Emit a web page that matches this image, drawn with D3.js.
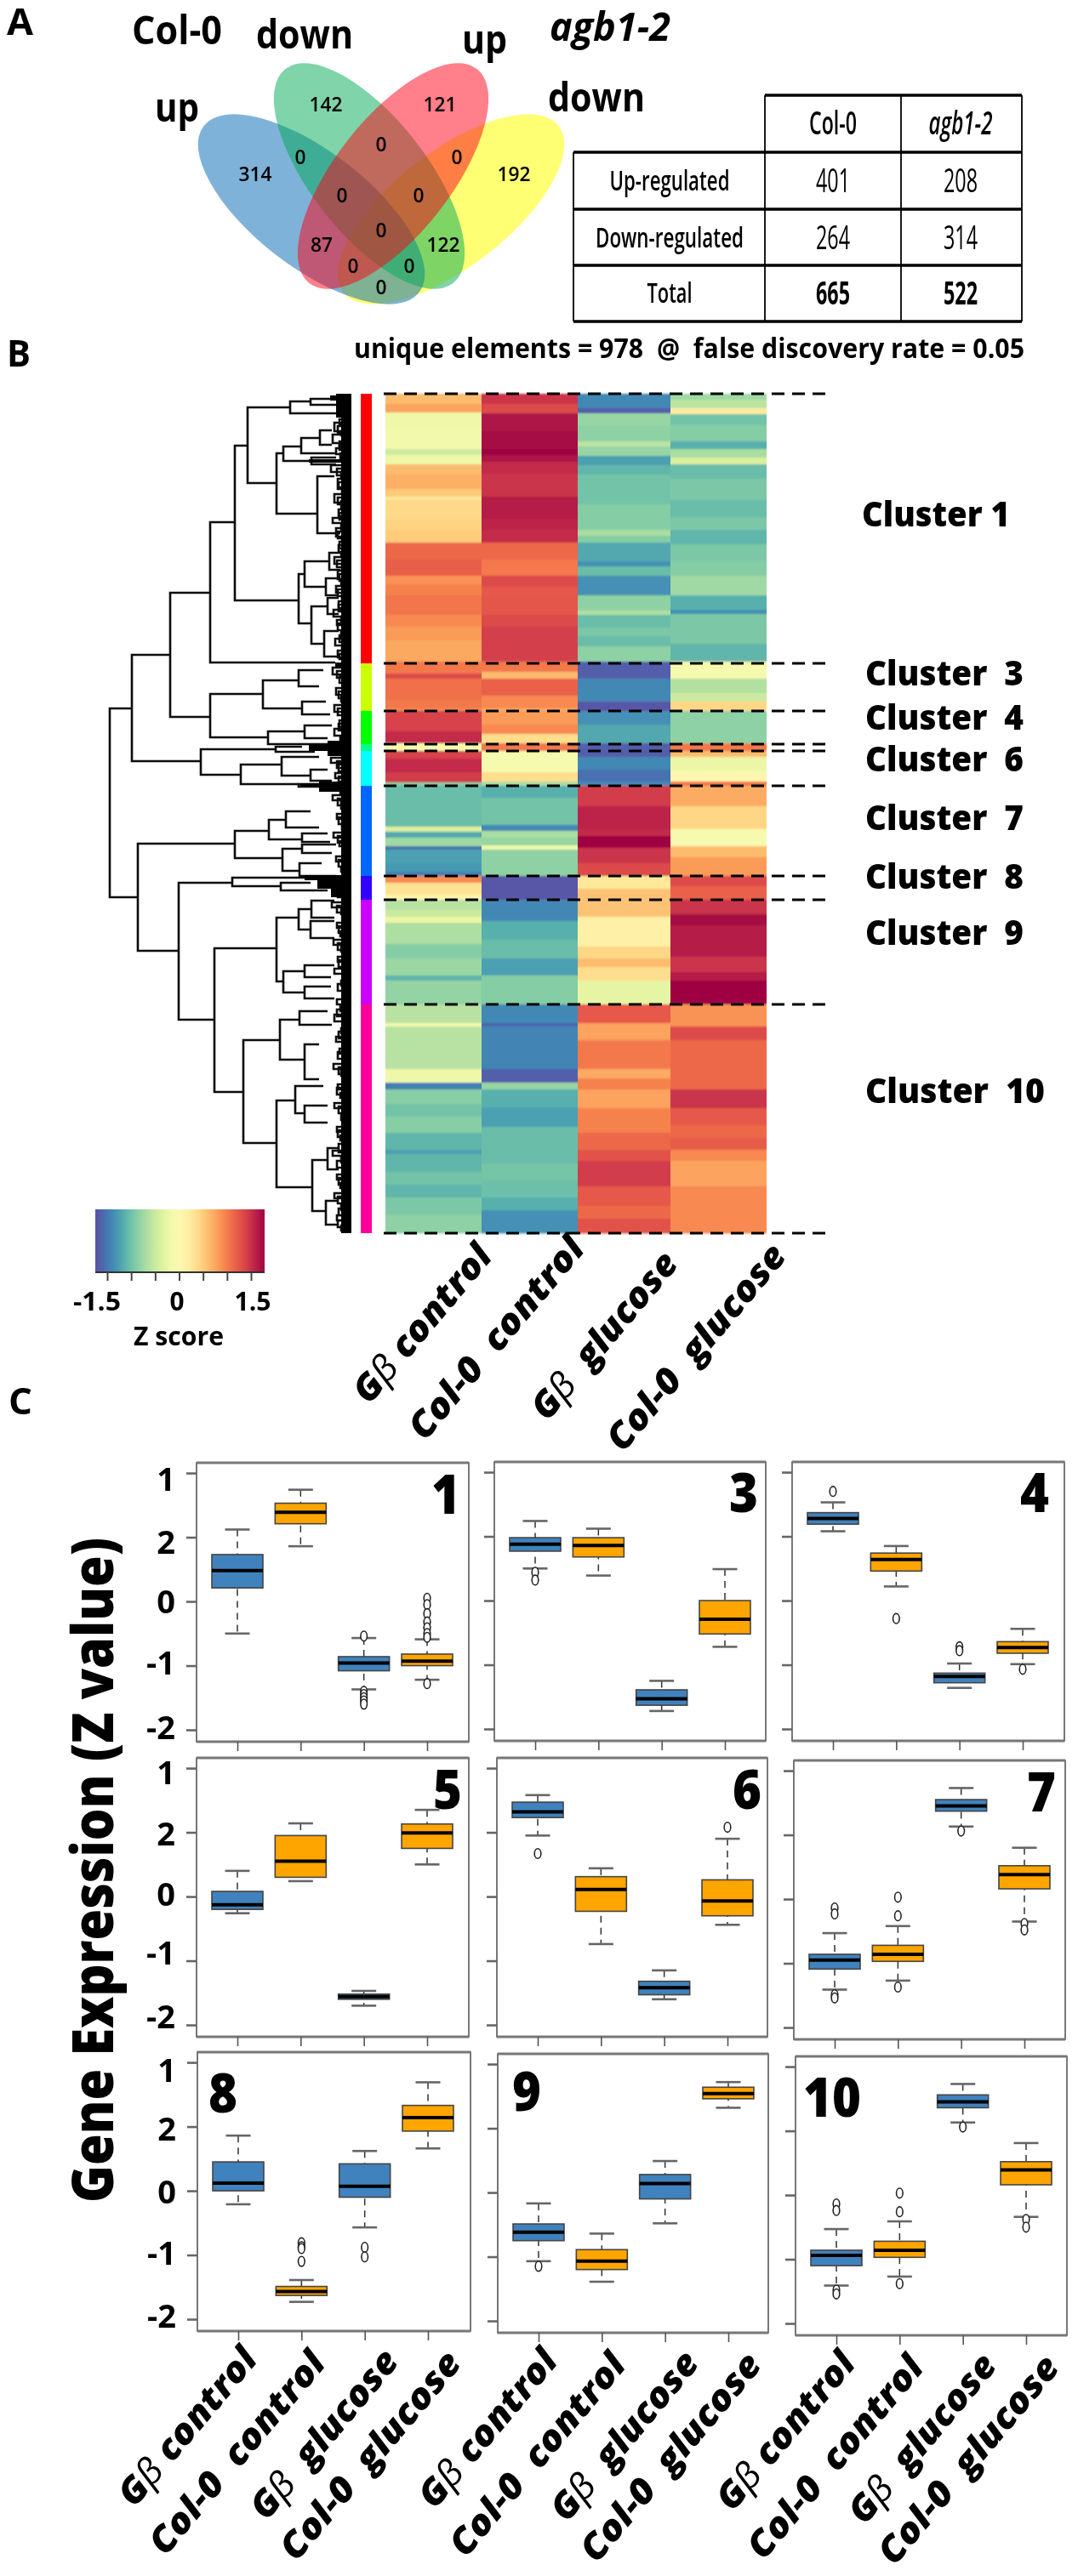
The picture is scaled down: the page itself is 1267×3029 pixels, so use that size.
<!DOCTYPE html>
<html><head><meta charset="utf-8">
<script src="https://cdn.jsdelivr.net/npm/d3@7"></script>
<style>html,body{margin:0;background:#fff}svg{display:block}text{font-family:"Open Sans",sans-serif;fill:#000}</style>
</head><body><svg id="c" width="1267" height="3029"></svg>
<script>
// ---------- DATA ----------
const vennSets=["Col-0 up","Col-0 down","agb1-2 up","agb1-2 down"];
const vennCounts=[142,121,0,0,0,314,192,0,0,0,87,122,0,0,0];
const tableHead=["Col-0","agb1-2"];
const tableRows=["Up-regulated","Down-regulated","Total"];
const tableCol0=[401,264,665];
const tableAgb=[208,314,522];
const conditions=["Gβ control","Col-0\u00a0 control","Gβ\u00a0 glucose","Col-0\u00a0 glucose"];
const clusterNames=["Cluster 1","Cluster\u00a0 3","Cluster\u00a0 4","Cluster\u00a0 6","Cluster\u00a0 7","Cluster\u00a0 8","Cluster\u00a0 9","Cluster\u00a0 10"];
const clusterBreaks=[0,317,373,412,420,461,567,595,718,987];
const sideColors=["#ff0000","#ccff00","#00ff00","#00ff88","#00ffff","#0066ff","#3300ff","#cc00ff","#ff0099"];
// heat map runs: [last gene row, z score]
const heat1=[[12,.6],[22,.75],[40,-.22],[65,-.15],[72,-.5],[83,-.2],[95,.6],[112,.68],[121,.5],[125,.25],[147,.38],[160,.42],[175,.48],[195,1.1],[214,1.17],[224,.85],[237,.95],[260,1.02],[274,.9],[290,.8],[315,.72],
[329,1.0],[335,1.3],[360,1.05],[370,1],[373,.9],[397,1.35],[411,1.5],[420,-.1],[429,1.35],[445,1.5],[457,1.4],[461,-.9],[509,-1.05],[515,-.4],[522,-1.2],[532,-.75],[536,-1.55],[552,-1.25],[562,-1.3],[567,-1.45],[575,.9],[589,.3],[595,.1],
[607,-.62],[615,-.5],[622,-.25],[647,-.68],[664,-.9],[684,-.78],[690,-1.1],[718,-.82],[740,-.62],[744,-.15],[794,-.62],[810,-.2],[818,-1.45],[835,-.88],[850,-1],[869,-.88],[889,-1.1],[894,-1.25],[915,-1.1],[930,-1],[945,-1.1],[965,-.95],[987,-.85]];
const heat2=[[12,1.45],[23,1.3],[44,1.65],[65,1.7],[72,1.75],[80,1.65],[94,1.5],[112,1.45],[121,1.45],[147,1.6],[160,1.55],[175,1.5],[195,1.1],[214,1],[227,1.3],[237,1.2],[260,1.22],[274,1.3],[315,1.38],
[327,1],[335,.6],[355,1.15],[370,.9],[373,.7],[389,.8],[400,.9],[411,.35],[420,1],[445,-.1],[456,.35],[461,-.7],[475,-1.15],[507,-1],[514,-1.4],[522,-.7],[531,-.8],[536,-.2],[567,-.85],[595,-1.7],
[620,-1.4],[642,-1.15],[664,-1.05],[684,-1.25],[718,-.9],[740,-1.4],[744,-1.6],[794,-1.42],[810,-1.65],[818,-.8],[839,-1.15],[862,-1.25],[889,-1.05],[905,-1.05],[925,-.98],[945,-1.03],[960,-1.15],[987,-1.35]];
const heat3=[[17,-1.4],[23,-1.65],[37,-.8],[56,-.85],[62,-.6],[73,-.8],[84,-1.25],[95,-1.1],[112,-1],[130,-1],[160,-.9],[167,-.7],[175,-.9],[197,-1.2],[203,-1.35],[214,-1.05],[237,-1.35],[255,-.85],[260,-.65],[275,-1.05],[285,-.95],[297,-1.05],[315,-.85],
[335,-1.65],[362,-1.4],[373,-1.7],[389,-1.35],[411,-1.2],[427,-1.65],[442,-1.4],[456,-1.55],[461,-1.4],[485,1.4],[512,1.55],[520,1.5],[534,1.75],[552,1.45],[567,1.3],[582,.25],[595,.55],
[615,.55],[650,.15],[664,.4],[674,.6],[690,.35],[718,-.3],[740,1.2],[760,.75],[794,1],[805,.7],[818,.95],[840,.75],[869,.95],[889,1.1],[902,1.25],[932,1.4],[955,1.2],[970,1.1],[987,1.25]];
const heat4=[[7,-.75],[17,-.6],[24,.2],[37,-1],[56,-.9],[65,-1.15],[75,-.7],[83,-.4],[100,-1.05],[125,-.95],[145,-1.05],[160,-.95],[177,-1.1],[197,-.95],[214,-.9],[237,-.75],[254,-1.15],[259,-1.35],[294,-.95],[315,-1.1],
[335,-.1],[352,-.65],[362,-.5],[373,.4],[411,-.85],[420,1],[427,.6],[444,-.25],[456,.05],[461,1],[485,.7],[512,.4],[532,-.1],[545,.6],[567,.8],[579,1.3],[595,1.15],
[612,1.45],[625,1.7],[662,1.6],[680,1.45],[690,1.6],[718,1.75],[744,.85],[760,1.3],[818,1.1],[840,1.45],[860,1.2],[875,1.1],[889,1.18],[902,.9],[932,.75],[987,.9]];
// dendrogram merges: [height, row, child height, row, child height]
const dendroMerges=[[284,370,258,592,251],[258,307,213,432,177],[213,234,166,380,166],[166,151,137,316,19],[137,61,122,243,62],[122,16,72,105,88],[72,9,48,23,18],[48,6,18,13,18],[88,70,80,141,40],[80,62,59,79,47],[59,52,37,70,18],[37,43,23,60,23],[47,75,18,83,18],[40,97,20,164,13],[62,212,55,270,47],[55,197,26,227,30],[47,250,28,294,32],[26,187,13,207,13],[30,217,15,237,15],[28,240,15,259,15],[32,279,15,309,15],
[166,353,104,404,98],[104,337,62,370,58],[62,325,33,344,38],[58,362,30,377,25],[98,397,55,412,18],[55,390,23,405,28],[177,418,89,448,130],[130,436,82,459,62],[82,427,38,449,48],[89,415,58,421,43],[48,442,28,455,23],[62,459,18,462,18],
[251,529,137,655,203],[137,514,97,546,81],[97,501,77,524,58],[77,491,48,510,38],[58,517,28,527,25],[81,535,58,561,61],[58,530,18,540,23],[61,552,35,567,18],[203,575,140,736,161],[140,569,55,579,83],[83,575,48,584,28],[161,652,88,821,127],[88,616,62,691,80],[62,606,47,630,48],[47,596,20,616,20],[48,620,20,640,20],[80,679,55,704,55],[55,672,20,686,24],[55,697,24,711,20],[127,760,84,881,88],[84,736,61,783,55],[61,726,28,742,23],[55,765,38,806,38],[88,831,66,933,46],[66,814,33,846,55],[55,837,28,857,28],[46,901,28,961,30],[28,887,15,912,15],[30,949,15,977,15]];
// small leaf brackets near the label edge: [height, row, row]
const leafBrackets=[[14,30,36],[20,34,44],[12,44,49],[22,48,58],[14,56,62],[18,64,71],[13,70,78],[24,84,92],[12,92,98],[16,100,112],[11,110,116],[20,118,128],[12,126,134],[15,136,144],[22,146,152],[12,152,160],[18,158,168],[11,168,172],[14,174,182],[12,186,192],[20,192,200],[11,202,206],[16,208,218],[12,218,224],[18,226,234],[11,236,242],[15,244,252],[21,254,262],[12,262,268],[16,270,278],[12,280,286],[19,288,296],[11,298,304],[14,306,312],
[22,322,330],[14,332,340],[18,346,354],[12,356,362],[20,366,374],[14,384,392],[20,394,402],[13,404,410],[24,428,434],[15,436,444],[19,446,452],[13,464,470],[22,472,478],[12,480,488],[17,494,500],[11,504,512],[21,516,522],[14,526,532],[18,544,550],[12,556,562],[16,586,592],[23,598,604],[12,606,612],[17,622,628],[13,632,638],[21,642,648],[12,650,656],[16,662,668],[20,676,682],[12,690,696],[17,712,718],[13,720,726],[20,730,738],[12,746,752],[18,756,762],[14,770,776],[21,788,794],[12,796,802],[16,812,818],[13,822,828],[20,834,840],[12,848,854],[17,862,868],[13,872,878],[22,890,896],[12,898,904],[17,918,924],[13,928,934],[20,940,946],[12,954,960],[17,966,972],[12,978,984]];
const leafBracketsInner=[[16,38,46],[14,60,66],[17,88,96],[15,104,110],[16,122,130],[14,140,148],[16,162,170],[15,178,186],[17,196,204],[14,212,220],[16,230,238],[15,248,256],[17,266,272],[14,284,292],[16,302,310],[17,326,334],[15,350,358],[16,370,378],[15,388,396],[17,432,440],[15,450,456],[16,476,484],[15,498,506],[16,520,528],[15,548,556],[17,602,610],[15,626,634],[16,646,654],[15,666,674],[16,694,702],[17,724,732],[15,750,758],[16,774,782],[15,792,800],[17,816,824],[15,838,846],[16,866,874],[15,882,892],[17,902,910],[15,922,930],[16,944,952],[15,958,966],[16,972,980]];
const leafPatches=[[18,0,28],[25,2,8],[12,0,987],[19,316,322],[50,412,420],[28,408,426],[60,458,462],[38,456,468],[55,566,572],[40,570,582],[24,582,592],[50,77,81]];
const colorTicks=[-1.5,-1,-.5,0,.5,1,1.5];
const colorLabels=["-1.5","","","0","","","1.5"];
const yTickValues=[2,1,0,-1,-2];
const yTickLabels=["1","2","0","-1","-2"];
// boxes: [upper whisker, q3, median, q1, lower whisker, outliers]
const box1=[[1.12,.73,.48,.21,-.5,[]],[1.74,1.53,1.39,1.21,.86,[]],[-.57,-.86,-.96,-1.08,-1.37,[-.54,-1.4,-1.45,-1.5,-1.55,-1.6]],[-.59,-.82,-.93,-1,-1.22,[.05,-.05,-.19,-.32,-.41,-.5,-.56,-1.28]]];
const box3=[[1.24,.98,.88,.77,.5,[.44,.32]],[1.12,.98,.86,.68,.39,[]],[-1.25,-1.39,-1.53,-1.63,-1.72,[]],[.49,0,-.29,-.52,-.72,[]]];
const box4=[[1.53,1.37,1.28,1.19,1.08,[1.7]],[.85,.74,.64,.46,.22,[-.28]],[-.98,-1.13,-1.18,-1.28,-1.36,[-.72,-.78]],[-.44,-.64,-.73,-.82,-.99,[-1.07]]];
const box5=[[.4,.08,-.13,-.2,-.26,[]],[1.14,.95,.55,.3,.24,[]],[-1.47,-1.52,-1.56,-1.6,-1.7,[]],[1.35,1.13,.99,.75,.5,[]]];
const box6=[[1.58,1.47,1.32,1.23,.95,[.67]],[.44,.31,.11,-.23,-.74,[]],[-1.15,-1.32,-1.42,-1.53,-1.6,[]],[.9,.26,-.07,-.3,-.44,[1.08]]];
const box7=[[-.53,-.86,-.95,-1.09,-1.41,[-.14,-.23,-1.49,-1.54]],[-.42,-.72,-.86,-.97,-1.27,[.03,-.26,-1.37]],[1.73,1.55,1.45,1.37,1.13,[1.06]],[.8,.52,.38,.16,-.35,[-.38,-.48]]];
const box8=[[.86,.45,.12,0,-.21,[]],[-1.39,-1.49,-1.57,-1.63,-1.73,[-.81,-.87,-.9,-1.1]],[.62,.42,.07,-.1,-.57,[-.88,-1.03]],[1.69,1.33,1.14,.93,.66,[]]];
const box9=[[-.17,-.49,-.62,-.75,-1.07,[-1.15]],[-.64,-.89,-1.07,-1.2,-1.39,[]],[.49,.28,.14,-.1,-.48,[]],[1.72,1.64,1.54,1.46,1.32,[]]];
const box10=[[-.53,-.86,-.94,-1.1,-1.41,[-.14,-.24,-1.48,-1.54]],[-.41,-.72,-.86,-.97,-1.27,[.03,-.26,-1.38]],[1.73,1.56,1.45,1.36,1.13,[1.06]],[.81,.52,.39,.16,-.34,[-.38,-.5]]];
const panelNames=["1","3","4","5","6","7","8","9","10"];
const panelBoxes=[box1,box3,box4,box5,box6,box7,box8,box9,box10];

// ---------- LAYOUT ----------
const svg=d3.select("#c");
const defs=svg.append("defs");
defs.append("filter").attr("id","soft").attr("filterUnits","userSpaceOnUse")
 .attr("x",0).attr("y",0).attr("width",1267).attr("height",3029)
 .append("feGaussianBlur").attr("stdDeviation",.55);
defs.append("filter").attr("id","vsoft").attr("filterUnits","userSpaceOnUse")
 .attr("x",440).attr("y",455).attr("width",470).attr("height",1005)
 .append("feGaussianBlur").attr("stdDeviation","0 1.3");
const root=svg.append("g").attr("filter","url(#soft)");
function T(g,str,x,y,o={}){
 const t=g.append("text").attr("x",x).attr("y",y).attr("text-anchor",o.anchor||"start")
  .attr("font-size",o.size||30).attr("font-weight",o.weight||700).text(str);
 if(o.style)t.attr("font-style",o.style);
 if(o.len)t.attr("textLength",o.len).attr("lengthAdjust","spacingAndGlyphs");
 return t;
}
// panel letters
T(root,"A",8,41,{size:43,len:31});T(root,"B",8,431,{size:43,len:28});T(root,"C",10,1663,{size:43,len:28});

// ---------- A: Venn ----------
const vennG=root.append("g");
const ellipseGeom=[{cx:366,cy:246,rot:-52.3,fill:"rgba(0,102,178,.5)"},{cx:434,cy:207,rot:-38,fill:"rgba(0,170,85,.5)"},{cx:462,cy:207,rot:38,fill:"rgba(255,0,20,.5)"},{cx:530,cy:246,rot:52.3,fill:"rgba(255,255,0,.55)"}];
const vennOrder=[3,0,1,2];
vennG.selectAll("ellipse").data(vennOrder.map(i=>vennSets[i])).join("ellipse")
 .attr("rx",68).attr("ry",160).attr("fill",(d,i)=>ellipseGeom[vennOrder[i]].fill)
 .attr("transform",(d,i)=>{const e=ellipseGeom[vennOrder[i]];return `translate(${e.cx},${e.cy}) rotate(${e.rot})`;});
const vennPos=[[383,122],[517,122],[353,184],[448,169],[537,184],[300,204],[604,204],[402,229],[492,229],[448,270],[378,287],[521,287],[415,312],[481,312],[448,337]];
vennCounts.forEach((v,i)=>T(vennG,v,vennPos[i][0],vennPos[i][1]+9,{anchor:"middle",size:24,weight:600,len:(""+v).length*13}));
T(root,"Col-0",155,52,{size:46,len:106});T(root,"down",301,57,{size:46,len:114});T(root,"up",543,63,{size:46,len:53});
T(root,"agb1-2",646,48,{size:46,style:"italic",len:142});T(root,"down",644,131,{size:46,len:114});T(root,"up",182,143,{size:46,len:52});
// table
const tb=root.append("g").attr("stroke","#000");
const tY=[112,179,246,312,378],tX=[674,899,1059,1201];
tY.forEach((y,i)=>tb.append("line").attr("x1",i?tX[0]:tX[1]).attr("x2",tX[3]).attr("y1",y).attr("y2",y).attr("stroke-width",3.5));
tX.forEach((x,i)=>tb.append("line").attr("x1",x).attr("x2",x).attr("y1",i?tY[0]:tY[1]).attr("y2",tY[4]).attr("stroke-width",1.8));
const tLab=root.append("g"),tRowY=[226,293,358];
T(tLab,tableHead[0],979,158,{anchor:"middle",size:37,weight:600,len:56});
T(tLab,tableHead[1],1129,158,{anchor:"middle",size:37,weight:600,style:"italic",len:75});
tableRows.forEach((r,i)=>{
 T(tLab,r,787,tRowY[i]-2,{anchor:"middle",size:33,weight:600,len:[141,174,53][i]});
 const w=i==2?700:500;
 T(tLab,tableCol0[i],979,tRowY[i],{anchor:"middle",size:38,weight:w,len:40});
 T(tLab,tableAgb[i],1129,tRowY[i],{anchor:"middle",size:38,weight:w,len:40});
});

// ---------- B: heat map ----------
T(root,"unique elements = 978\u00a0 @\u00a0 false discovery rate = 0.05",416,421,{size:33,len:788});
const rowY=d3.scaleLinear().domain([0,987]).range([463,1450]);
const colX=d3.scaleLinear().domain([0,1,2,3,4]).range([453,566,679,788,901]);
const zColor=d3.scaleSequential(t=>d3.interpolateSpectral(1-t)).domain([-1.75,1.75]);
const heatG=root.append("g").attr("filter","url(#vsoft)");
[heat1,heat2,heat3,heat4].forEach((runs,c)=>{
 heatG.append("g").selectAll("rect").data(runs).join("rect")
  .attr("x",colX(c)).attr("width",colX(c+1)-colX(c))
  .attr("y",(d,i)=>rowY(i?runs[i-1][0]:0))
  .attr("height",(d,i)=>rowY(d[0])-rowY(i?runs[i-1][0]:0)+.4)
  .attr("fill",d=>zColor(d[1]));
});
// side colours
root.append("g").selectAll("rect").data(sideColors).join("rect")
 .attr("x",424).attr("width",13).attr("y",(d,i)=>rowY(clusterBreaks[i]))
 .attr("height",(d,i)=>rowY(clusterBreaks[i+1])-rowY(clusterBreaks[i])).attr("fill",d=>d);
// dashed lines
root.append("g").selectAll("line").data(clusterBreaks).join("line")
 .attr("x1",451).attr("x2",978).attr("y1",d=>rowY(d)).attr("y2",d=>rowY(d))
 .attr("stroke","#000").attr("stroke-width",2.8).attr("stroke-dasharray","15,9");
// cluster labels
const clusterBase=[619,806,858,907,976,1045,1111,1297];
clusterNames.forEach((n,i)=>T(root,n,i?1017:1013,clusterBase[i],{size:40,weight:800,len:i==0?174:(i==7?211:186)}));
// dendrogram
const dendX=d3.scaleLinear().domain([0,284]).range([413,129]);
const dendG=root.append("g").attr("fill","none").attr("stroke","#111").attr("stroke-width",2.6);
dendG.selectAll("path.m").data(dendroMerges).join("path").attr("class","m")
 .attr("d",d=>`M${dendX(d[2])},${rowY(d[1])}H${dendX(d[0])}V${rowY(d[3])}H${dendX(d[4])}`);
dendG.selectAll("path.b").data(leafBrackets.concat(leafBracketsInner)).join("path").attr("class","b")
 .attr("d",d=>`M${dendX(0)},${rowY(d[1])}H${dendX(d[0])}V${rowY(d[2])}H${dendX(0)}`);
root.append("g").selectAll("rect").data(leafPatches).join("rect")
 .attr("x",d=>dendX(d[0])).attr("width",d=>dendX(0)-dendX(d[0]))
 .attr("y",d=>rowY(d[1])).attr("height",d=>rowY(d[2])-rowY(d[1])).attr("fill","#000");
// heat labels
const heatLabelPos=[[496,1556],[583,1573],[710,1570],[818,1584]],heatLen=[228,295,242,302];
function condLabel(g,s,x,y,len){
 const t=g.append("text").attr("x",x).attr("y",y).attr("text-anchor","middle").attr("dy",".35em").attr("font-size",42).attr("font-weight",800).attr("font-style","italic")
  .attr("transform",`rotate(-50,${x},${y})`).attr("textLength",len).attr("lengthAdjust","spacingAndGlyphs");
 if(s.includes("β")){const p=s.split("β");t.append("tspan").text(p[0]);t.append("tspan").attr("font-weight",400).text("β");t.append("tspan").text(p[1]);}
 else t.text(s);
}
conditions.forEach((s,i)=>condLabel(root,s,heatLabelPos[i][0],heatLabelPos[i][1],heatLen[i]));
// colour key
const grad=defs.append("linearGradient").attr("id","zg");
d3.range(0,1.0001,.05).forEach(t=>grad.append("stop").attr("offset",t).attr("stop-color",zColor(-1.75+3.5*t)));
const keyX=d3.scaleLinear().domain([-1.5,1.5]).range([126,295]);
const keyG=root.append("g");
keyG.append("rect").attr("x",112).attr("y",1422).attr("width",199).attr("height",74).attr("fill","url(#zg)");
keyG.append("line").attr("x1",112).attr("x2",311).attr("y1",1496).attr("y2",1496).attr("stroke","#333").attr("stroke-width",2);
const keyAxis=keyG.append("g").attr("transform","translate(0,1496)")
 .call(d3.axisBottom(keyX).tickValues(colorTicks).tickSize(10).tickPadding(0).tickFormat((d,i)=>colorLabels[i]));
keyAxis.select(".domain").remove();
keyAxis.selectAll("line").attr("stroke","#444").attr("stroke-width",2);
keyAxis.selectAll("text").remove();
T(keyG,colorLabels[0],114,1541,{anchor:"middle",size:30,len:56});
T(keyG,colorLabels[3],208,1541,{anchor:"middle",size:30,len:17});
T(keyG,colorLabels[6],297,1541,{anchor:"middle",size:30,len:43});
T(keyG,"Z score",157,1582,{size:30,len:106});

// ---------- C: box plots ----------
const frames=[[231,1720,551],[581,1719,900],[931,1719,1251],[231,2067,551],[584,2067,902],[933,2070,1252],[232,2413,553],[585,2415,903],[935,2418,1254]];
const numberPos=[[541,1780,"end"],[891,1778,"end"],[1233,1778,"end"],[543,2127,"end"],[895,2127,"end"],[1241,2130,"end"],[245,2484,"start"],[602,2482,"start"],[944,2489,"start"]];
const tickNudge=[[7,6,0,-3,-3],[5,2,-3,-9,-10],[9,3,1,-2,-4]];
const boxColors=["#3f82bd","#ffa500","#3f82bd","#ffa500"];
const labelDx=[-60,-76,-48,-68],labelDy=[112,143,121,146],labelLen=[228,296,245,305];
panelNames.forEach((name,p)=>{
 const [L,Top,R]=frames[p],Bot=Top+328,g=root.append("g");
 const x=d3.scalePoint().domain(conditions).range([L+48,L+271]);
 const y=d3.scaleLinear().domain([-2.185,2.16]).range([Bot,Top]);
 g.append("rect").attr("x",L).attr("y",Top).attr("width",R-L).attr("height",328).attr("fill","none").attr("stroke","#555").attr("stroke-width",1.6);
 [Top,Bot].forEach(v=>g.append("line").attr("x1",L).attr("x2",R).attr("y1",v).attr("y2",v).attr("stroke","#777").attr("stroke-width",3.2));
 const ax=g.append("g").attr("transform",`translate(${L},0)`).call(d3.axisLeft(y).tickValues(yTickValues).tickSize(12).tickPadding(13).tickFormat((d,i)=>p%3==0?yTickLabels[i]:""));
 ax.select(".domain").remove();ax.selectAll("line").attr("stroke","#666").attr("stroke-width",2.6);
 ax.selectAll("text").attr("font-size",38).attr("font-weight",700).attr("font-family","Open Sans").attr("fill","#000")
  .attr("dy",(d,i)=>(tickNudge[p/3|0][i]+13)+"px");
 const bx=g.append("g").attr("transform",`translate(0,${Bot})`).call(d3.axisBottom(x).tickSize(11).tickFormat(""));
 bx.select(".domain").remove();bx.selectAll("line").attr("stroke","#555").attr("stroke-width",1.6);
 panelBoxes[p].forEach((b,i)=>{
  const c=x(conditions[i]),[hi,q3,med,q1,lo,out]=b;
  g.append("line").attr("x1",c).attr("x2",c).attr("y1",y(hi)).attr("y2",y(lo)).attr("stroke","#333").attr("stroke-width",1.5).attr("stroke-dasharray","8,6");
  [hi,lo].forEach(v=>g.append("line").attr("x1",c-14.5).attr("x2",c+14.5).attr("y1",y(v)).attr("y2",y(v)).attr("stroke","#666").attr("stroke-width",2.6));
  g.selectAll(null).data(out).join("ellipse").attr("cx",c).attr("cy",d=>y(d)).attr("rx",3.8).attr("ry",5.8).attr("fill","#fff").attr("stroke","#222").attr("stroke-width",1.6);
  g.append("rect").attr("x",c-30).attr("width",60).attr("y",y(q3)).attr("height",y(q1)-y(q3)).attr("fill",boxColors[i]).attr("stroke","#444").attr("stroke-width",1.6);
  g.append("line").attr("x1",c-30).attr("x2",c+30).attr("y1",y(med)).attr("y2",y(med)).attr("stroke","#000").attr("stroke-width",4);
 });
 T(g,name,numberPos[p][0],numberPos[p][1],{anchor:numberPos[p][2],size:64,weight:800,len:name.length*34});
 if(p>=6) conditions.forEach((s,i)=>condLabel(root,s,x(s)+labelDx[i],Bot+labelDy[i],labelLen[i]));
});
T(root,"Gene Expression (Z value)",133,2199,{anchor:"middle",size:67,weight:800,len:782}).attr("transform","rotate(-90,133,2199)");
</script></body></html>
